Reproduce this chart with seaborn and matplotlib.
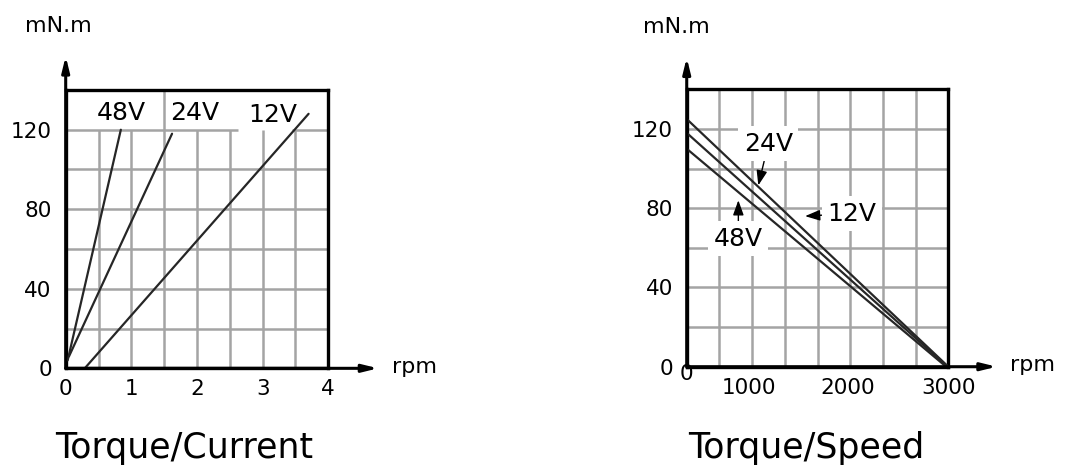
import matplotlib
matplotlib.use("Agg")
import matplotlib.pyplot as plt
from matplotlib.transforms import ScaledTranslation
import pandas as pd
import seaborn as sns

# ---------------- data ----------------
# Torque/Current (current on x, torque mN.m on y)
tc_voltages = ["48V", "24V", "12V"]
tc_current_48 = [0.03, 0.84]
tc_torque_48 = [4, 120]
tc_current_24 = [0.05, 1.62]
tc_torque_24 = [6, 118]
tc_current_12 = [0.29, 3.70]
tc_torque_12 = [0, 128]

# Torque/Speed (speed rpm on x, torque mN.m on y)
ts_voltages = ["12V", "24V", "48V"]
ts_speed_12 = [0, 3000]
ts_torque_12 = [125, 0]
ts_speed_24 = [0, 2990]
ts_torque_24 = [118, 0]
ts_speed_48 = [0, 2975]
ts_torque_48 = [110, 0]

tc_xticks = [0, 1, 2, 3, 4]
tc_xticklabels = ["0", "1", "2", "3", "4"]
y_ticks = [0, 40, 80, 120]
y_ticklabels = ["0", "40", "80", "120"]
ts_xticks = [0, 710, 1850, 3000]
ts_xticklabels = ["0", "1000", "2000", "3000"]

titles = ["Torque/Current", "Torque/Speed"]
y_unit = "mN.m"
x_unit = "rpm"

# ---------------- style ----------------
sns.set_style("white")
plt.rcParams["font.family"] = ["DejaVu Sans"]
plt.rcParams["text.color"] = "black"
plt.rcParams["xtick.color"] = "black"
plt.rcParams["ytick.color"] = "black"
plt.rcParams["axes.labelcolor"] = "black"

GRID = "#a4a4a4"
LINE = "#262626"

fig = plt.figure(figsize=(10.7, 4.71), dpi=100)
ax1 = fig.add_axes([0.0614, 0.218, 0.2454, 0.591])
ax2 = fig.add_axes([0.6418, 0.2214, 0.2445, 0.589])

df_tc = pd.DataFrame({
    "x": tc_current_48 + tc_current_24 + tc_current_12,
    "y": tc_torque_48 + tc_torque_24 + tc_torque_12,
    "v": ["48V"] * 2 + ["24V"] * 2 + ["12V"] * 2,
})
df_ts = pd.DataFrame({
    "x": ts_speed_12 + ts_speed_24 + ts_speed_48,
    "y": ts_torque_12 + ts_torque_24 + ts_torque_48,
    "v": ["12V"] * 2 + ["24V"] * 2 + ["48V"] * 2,
})

for ax, xmax in ((ax1, 4), (ax2, 3000)):
    ax.set_xlim(0, xmax)
    ax.set_ylim(0, 140)
    for s in ax.spines.values():
        s.set_visible(True)
        s.set_color("black")
        s.set_linewidth(2.4)
    ax.tick_params(length=0, labelsize=15.5, colors="black")
    ax.set_yticks(y_ticks)
    ax.set_yticklabels(y_ticklabels)
    ax.tick_params(axis="y", pad=10)
    ax.tick_params(axis="x", pad=8)

# ---- grid, left chart
for x in [0.5, 1, 1.5, 2, 2.5, 3, 3.5]:
    ax1.vlines(x, 0, 140 if x == 1.5 else 120, color=GRID, lw=1.8, zorder=1)
for y in [20, 40, 60, 80, 100]:
    ax1.hlines(y, 0, 4, color=GRID, lw=1.8, zorder=1)
ax1.hlines(120, 0, 2.62, color=GRID, lw=1.8, zorder=1)
ax1.hlines(120, 3.45, 4, color=GRID, lw=1.8, zorder=1)

# ---- grid, right chart
for x in [375, 750, 1125, 1500, 1875, 2250, 2625]:
    ax2.vlines(x, 0, 140, color=GRID, lw=1.8, zorder=1)
for y in [20, 40, 60, 80, 100, 120]:
    ax2.hlines(y, 0, 3000, color=GRID, lw=1.8, zorder=1)

# ---- curves
sns.lineplot(data=df_tc, x="x", y="y", hue="v", palette={v: LINE for v in tc_voltages},
             estimator=None, sort=False, legend=False, lw=1.6, ax=ax1, zorder=3)
sns.lineplot(data=df_ts, x="x", y="y", hue="v", palette={v: LINE for v in ts_voltages},
             estimator=None, sort=False, legend=False, lw=1.6, ax=ax2, zorder=3)

ax1.set_xticks(tc_xticks)
ax1.set_xticklabels(tc_xticklabels)
ax2.set_xticks(ts_xticks)
ax2.set_xticklabels(ts_xticklabels)
# the "0" on the speed axis sits higher
lab0 = ax2.get_xticklabels()[0]
lab0.set_transform(lab0.get_transform() + ScaledTranslation(0, 10 / 72, fig.dpi_scale_trans))
for ax in (ax1, ax2):
    ax.set_xlabel("")
    ax.set_ylabel("")

# ---- axis arrows
arrow_kw = dict(arrowstyle="-|>,head_length=0.9,head_width=0.22", color="black", lw=2.2,
                shrinkA=0, shrinkB=0)
ax1.annotate("", xy=(0, 157), xytext=(0, 0), arrowprops=arrow_kw, annotation_clip=False)
ax1.annotate("", xy=(4.76, 0), xytext=(0, 0), arrowprops=arrow_kw, annotation_clip=False)
ax2.annotate("", xy=(0, 156), xytext=(0, 0), arrowprops=arrow_kw, annotation_clip=False)
ax2.annotate("", xy=(3555, 0), xytext=(0, 0), arrowprops=arrow_kw, annotation_clip=False)

# ---- unit labels
ax1.text(-0.62, 172.4, y_unit, ha="left", va="center", fontsize=16, clip_on=False)
ax1.text(4.97, 0.8, x_unit, ha="left", va="center", fontsize=16, clip_on=False)
ax2.text(-501, 171.6, y_unit, ha="left", va="center", fontsize=16, clip_on=False)
ax2.text(3708, 0.8, x_unit, ha="left", va="center", fontsize=16, clip_on=False)

# ---- curve labels, left chart
ax1.text(0.85, 128.6, "48V", ha="center", va="center", fontsize=18, zorder=2.5)
ax1.text(1.97, 128.6, "24V", ha="center", va="center", fontsize=18, zorder=2.5)
ax1.text(3.15, 127.6, "12V", ha="center", va="center", fontsize=18, zorder=2.5)

# ---- curve labels, right chart
box = dict(boxstyle="square,pad=0.22", fc="white", ec="none")
lab_arrow = dict(arrowstyle="-|>,head_length=0.5,head_width=0.18", color="black", lw=1.0,
                 shrinkA=0, shrinkB=0)
ax2.annotate("24V", xy=(821, 91.5), xytext=(936, 112.5), ha="center", va="center",
             fontsize=18, bbox=box, arrowprops=lab_arrow, zorder=2.5)
ax2.annotate("12V", xy=(1357, 76), xytext=(1892, 77.3), ha="center", va="center",
             fontsize=18, bbox=box, arrowprops=lab_arrow, zorder=2.5)
ax2.annotate("48V", xy=(592, 84), xytext=(592, 64.7), ha="center", va="center",
             fontsize=18, bbox=box, arrowprops=lab_arrow, zorder=2.5)

# ---- titles
fig.text(0.0514, 0.027, titles[0], ha="left", va="baseline", fontsize=25)
fig.text(0.643, 0.027, titles[1], ha="left", va="baseline", fontsize=25)

fig.savefig("out.png", dpi=100, facecolor="white")
